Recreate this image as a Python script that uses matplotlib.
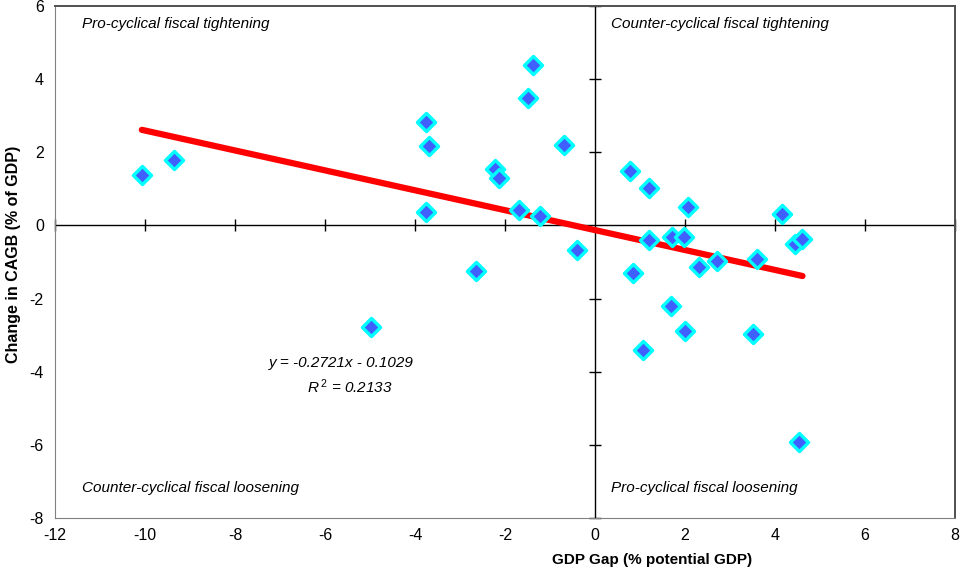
import numpy as np
import matplotlib.pyplot as plt

plt.rcParams['font.family'] = ['Liberation Sans', 'DejaVu Sans']
plt.rcParams['axes.unicode_minus'] = False
plt.rcParams['mathtext.fontset'] = 'custom'
plt.rcParams['mathtext.it'] = 'Liberation Sans:italic'
plt.rcParams['mathtext.rm'] = 'Liberation Sans'

# GDP gap (% potential GDP) and change in CAGB (% of GDP)
gdp_gap = [-10.07, -9.36, -4.98, -3.76, -3.69, -3.75, -2.65, -2.22, -2.13,
           -1.69, -1.22, -1.38, -1.50, -0.69, -0.40,
           0.78, 1.21, 2.07, 4.15, 1.20, 1.72, 1.98, 0.85, 2.30, 2.72,
           3.61, 4.44, 4.61, 1.69, 1.99, 1.06, 3.51, 4.54]
cagb_change = [1.37, 1.80, -2.79, 2.84, 2.18, 0.38, -1.26, 1.53, 1.29,
               0.41, 0.27, 4.39, 3.49, 2.21, -0.66,
               1.50, 1.03, 0.49, 0.32, -0.40, -0.32, -0.31, -1.31, -1.15, -0.98,
               -0.91, -0.50, -0.36, -2.21, -2.90, -3.42, -2.96, -5.91]

xticks = [-12, -10, -8, -6, -4, -2, 0, 2, 4, 6, 8]
yticks = [-8, -6, -4, -2, 0, 2, 4, 6]

x = np.array(gdp_gap)
y = np.array(cagb_change)
slope, intercept = np.polyfit(x, y, 1)

fig = plt.figure(figsize=(9.61, 5.77), dpi=100)
ax = fig.add_axes([0.0572, 0.1023, 0.9366, 0.8873])
ax.set_xlim(-12, 8)
ax.set_ylim(-8, 6)

# zero lines with their own little ticks
ax.axhline(0, color='black', lw=1, zorder=1)
ax.axvline(0, color='black', lw=1, zorder=1)
ax.plot([t for t in xticks if t != 0], [0] * (len(xticks) - 1), ls='none',
        marker='|', ms=8, mew=1, color='black', zorder=1, clip_on=False)
ax.plot([0] * (len(yticks) - 1), [t for t in yticks if t != 0], ls='none',
        marker='_', ms=8, mew=1, color='black', zorder=1, clip_on=False)

# trend line
xl = np.array([x.min(), x.max()])
ax.plot(xl, slope * xl + intercept, color='#FF0000', lw=4.5,
        solid_capstyle='round', zorder=2)

ax.scatter(x, y, marker='D', s=85, facecolor='#3F5FFF', edgecolor='#00FFFF',
           linewidths=2.4, zorder=3)

ax.set_xticks(xticks)
ax.set_yticks(yticks)
ax.tick_params(length=0, labelsize=11.5, pad=8)
ax.tick_params(axis='x', pad=7)
for s in ['left', 'bottom']:
    ax.spines[s].set_color('#808080')
for s in ['top', 'right']:
    ax.spines[s].set_color('#505050')
    ax.spines[s].set_linewidth(1.4)

ax.set_xlabel('GDP Gap (% potential GDP)', fontsize=11, fontweight='bold', labelpad=8)
ax.xaxis.set_label_coords(0.663, -0.068)
ax.set_ylabel('Change in CAGB (% of GDP)', fontsize=11.5, fontweight='bold', labelpad=6)
ax.yaxis.set_label_coords(-0.038, 0.514)

qs = dict(fontsize=11, style='italic', va='center', ha='left')
ax.text(-11.4, 5.5, 'Pro-cyclical fiscal tightening', **qs)
ax.text(0.36, 5.5, 'Counter-cyclical fiscal tightening', **qs)
ax.text(-11.4, -7.19, 'Counter-cyclical fiscal loosening', **qs)
ax.text(0.36, -7.19, 'Pro-cyclical fiscal loosening', **qs)

ax.text(-5.64, -3.77, 'y = -0.2721x - 0.1029', fontsize=11, style='italic',
        ha='center', va='center')
ax.text(-5.45, -4.40, r'$R^{\,2}$ = 0.2133', fontsize=11, style='italic',
        ha='center', va='center')

fig.savefig('out.png', dpi=100)
